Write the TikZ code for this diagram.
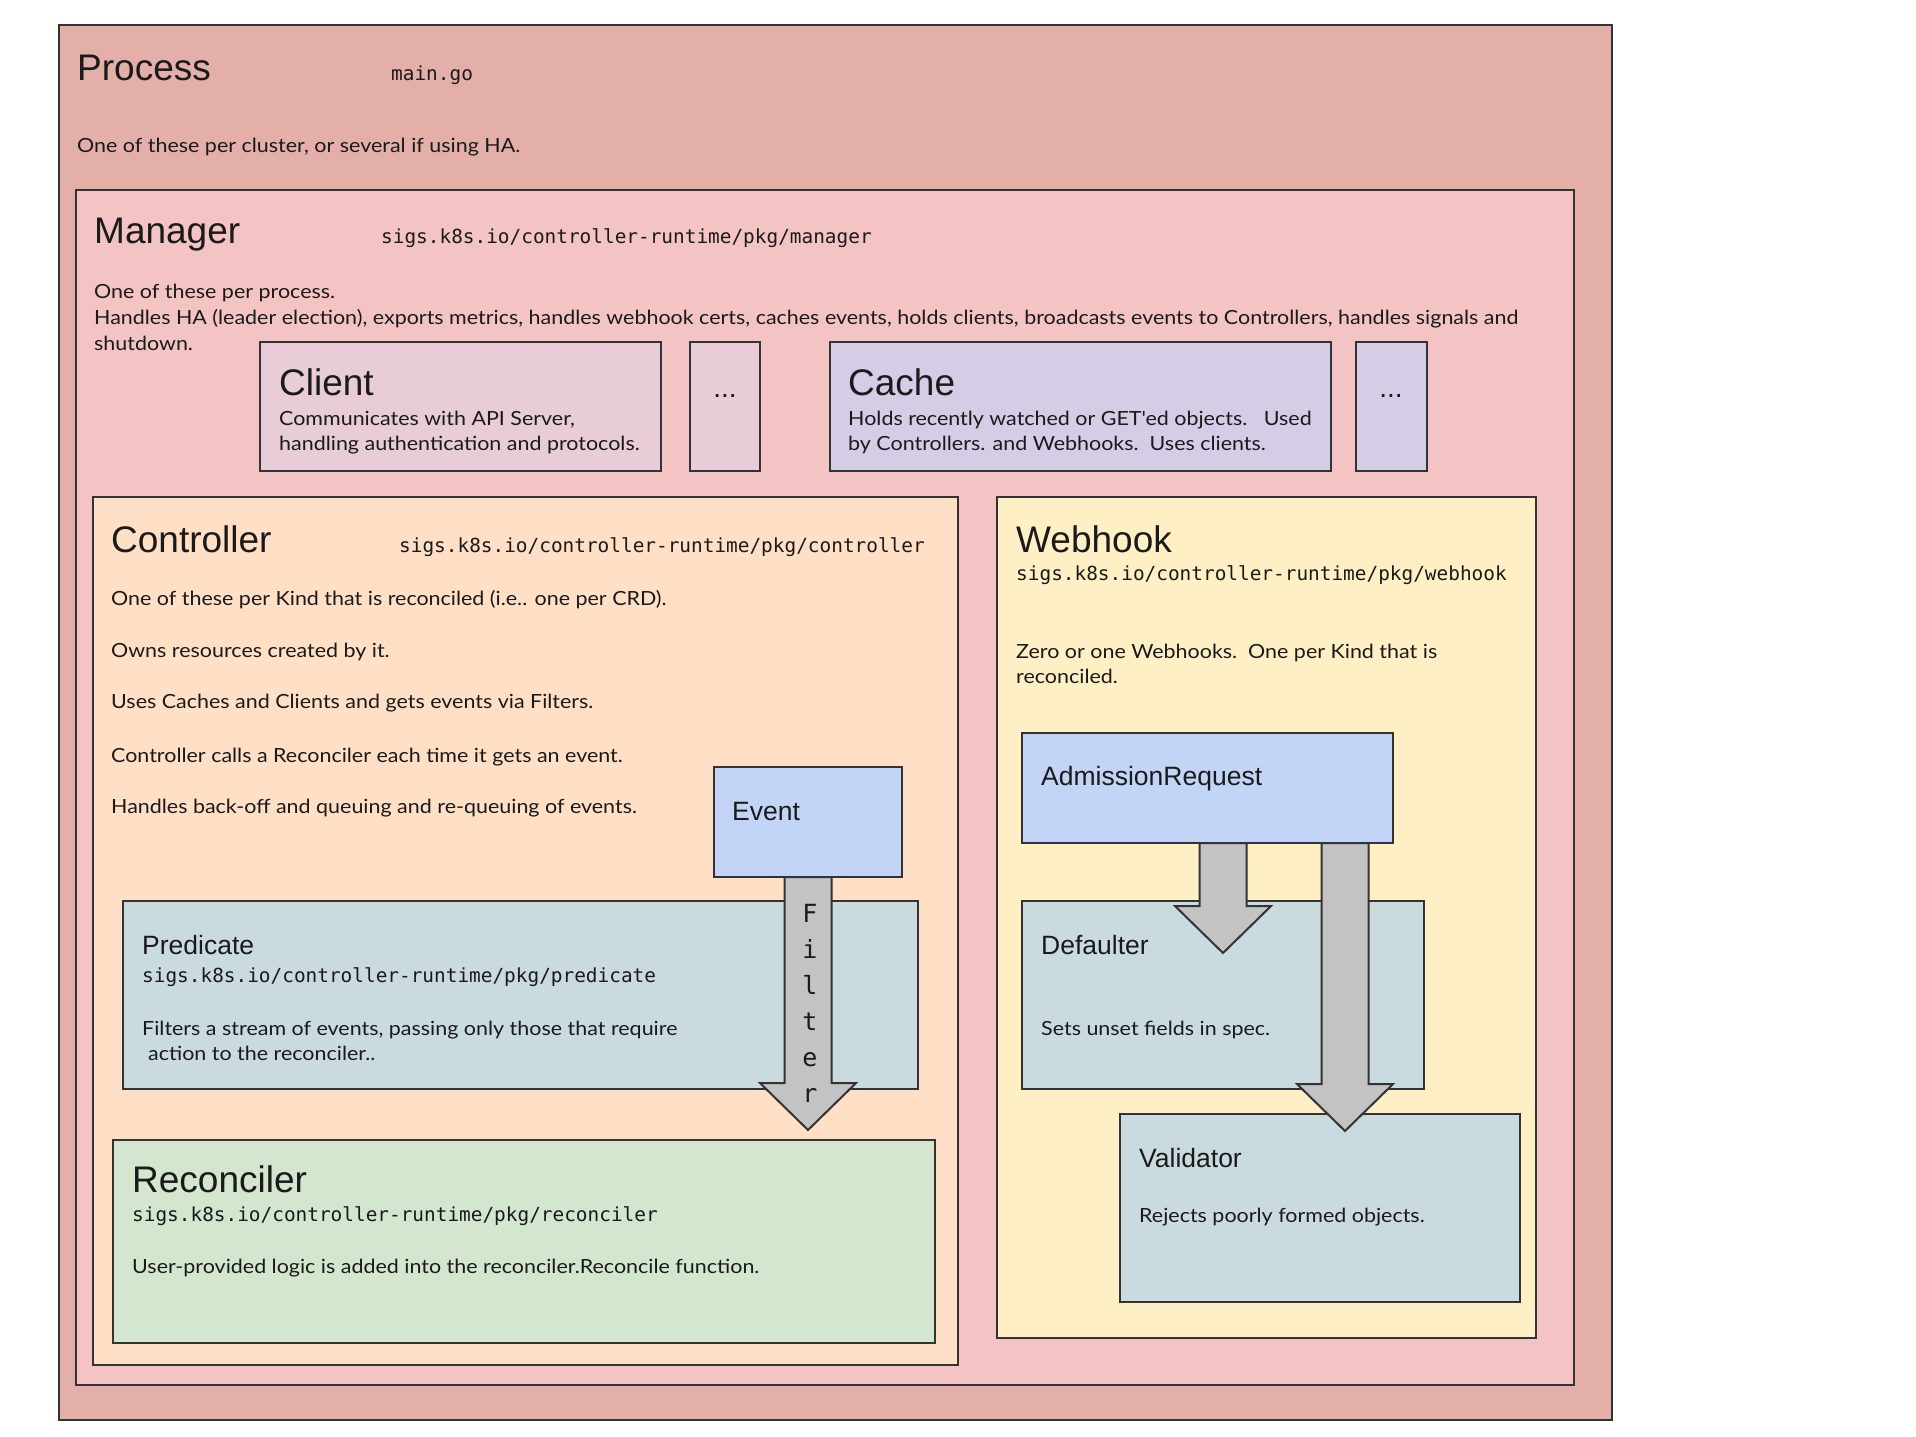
\documentclass[tikz,border=0pt]{standalone}
\usepackage{fontspec}
\setmainfont{Liberation Sans}
\newfontfamily\bodyf[FakeStretch=1.1]{Lato}
\newfontfamily\monof{DejaVu Sans Mono}
\usetikzlibrary{calc}
\definecolor{cProcess}{HTML}{E4AFA8}
\definecolor{cManager}{HTML}{F4C4C4}
\definecolor{cClient}{HTML}{E8CCD8}
\definecolor{cCache}{HTML}{D5CCE6}
\definecolor{cController}{HTML}{FFDFC5}
\definecolor{cWebhook}{HTML}{FFEFC5}
\definecolor{cEvent}{HTML}{C2D5F6}
\definecolor{cPred}{HTML}{CADBE0}
\definecolor{cRecon}{HTML}{D4E6CD}
\definecolor{cArrow}{HTML}{C3C3C3}
\definecolor{cLine}{HTML}{333333}
\definecolor{cText}{HTML}{1A1A1A}
\tikzset{
  box/.style={draw=cLine, line width=2pt, anchor=north west, inner sep=0pt, outer sep=0pt},
  title/.style={anchor=base west, inner sep=0pt, text=cText, font=\fontsize{37}{44}\selectfont},
  subtitle/.style={anchor=base west, inner sep=0pt, text=cText, font=\fontsize{26.5}{32}\selectfont},
  body/.style={anchor=base west, inner sep=0pt, text=cText, font=\bodyf\fontsize{19.5}{26}\selectfont},
  mono/.style={anchor=base west, inner sep=0pt, text=cText, font=\monof\fontsize{19.4}{24}\selectfont},
  arrowfill/.style={fill=cArrow, draw=cLine, line width=2pt, line join=miter},
  letter/.style={anchor=base, inner sep=0pt, text=cText, font=\monof\fontsize{25}{30}\selectfont},
}
\newcommand\blockarr[2]{%
  \path[arrowfill] let \p1=(#1), \p2=(#2) in
    (\x1-23.5pt,\y1) -- (\x1+23.5pt,\y1) -- (\x1+23.5pt,\y2+47pt) -- (\x1+48pt,\y2+47pt)
    -- (\x2,\y2) -- (\x1-48pt,\y2+47pt) -- (\x1-23.5pt,\y2+47pt) -- cycle;}
\begin{document}
\begin{tikzpicture}[x=1pt,y=-1pt]
\useasboundingbox[fill=white] (0,0) rectangle (1916,1436);
% containers
\node[box, fill=cProcess, minimum width=1553pt, minimum height=1395pt] (process) at (59,25) {};
\node[box, fill=cManager, minimum width=1498pt, minimum height=1195pt] (manager) at (76,190) {};
\node[box, fill=cClient, minimum width=401pt, minimum height=129pt] (client) at (260,342) {};
\node[box, fill=cClient, minimum width=70pt, minimum height=129pt] (dots1) at (690,342) {};
\node[box, fill=cCache, minimum width=501pt, minimum height=129pt] (cache) at (830,342) {};
\node[box, fill=cCache, minimum width=71pt, minimum height=129pt] (dots2) at (1356,342) {};
\node[box, fill=cController, minimum width=865pt, minimum height=868pt] (controller) at (93,497) {};
\node[box, fill=cWebhook, minimum width=539pt, minimum height=841pt] (webhook) at (997,497) {};
\node[box, fill=cEvent, minimum width=188pt, minimum height=110pt] (event) at (714,767) {};
\node[box, fill=cPred, minimum width=795pt, minimum height=188pt] (predicate) at (123,901) {};
\node[box, fill=cRecon, minimum width=822pt, minimum height=203pt] (reconciler) at (113,1140) {};
\node[box, fill=cEvent, minimum width=371pt, minimum height=110pt] (admission) at (1022,733) {};
\node[box, fill=cPred, minimum width=402pt, minimum height=188pt] (defaulter) at (1022,901) {};
\node[box, fill=cPred, minimum width=400pt, minimum height=188pt] (validator) at (1120,1114) {};
% texts
\node[title] (tProcess) at (77,80) {Process};
\node[mono] (tMain) at (391,80) {main.go};
\node[body] (dProcess) at (77,152) {One of these per cluster, or several if using HA.};
\node[title] (tManager) at (94,243) {Manager};
\node[mono] (pManager) at (381,243) {sigs.k8s.io/controller-runtime/pkg/manager};
\node[body] (dManager1) at (94,298) {One of these per process.};
\node[body] (dManager2) at (94,324) {Handles HA (leader election), exports metrics, handles webhook certs, caches events, holds clients, broadcasts events to Controllers, handles signals and};
\node[body] (dManager3) at (94,350) {shutdown.};
\node[title] (tClient) at (279,395) {Client};
\node[body] (dClient1) at (279,425) {Communicates with API Server,};
\node[body] (dClient2) at (279,450) {handling authentication and protocols.};
\node[anchor=base, inner sep=0pt, text=cText, font=\fontsize{28}{32}\selectfont] (tDots1) at (725,397) {...};
\node[title] (tCache) at (848,395) {Cache};
\node[body] (dCache1) at (848,425) {Holds recently watched or GET'ed objects.\ \ \ Used};
\node[body] (dCache2) at (848,450) {by Controllers. and Webhooks.\ \ Uses clients.};
\node[anchor=base, inner sep=0pt, text=cText, font=\fontsize{28}{32}\selectfont] (tDots2) at (1391,397) {...};
\node[title] (tController) at (111,552) {Controller};
\node[mono] (pController) at (399,552) {sigs.k8s.io/controller-runtime/pkg/controller};
\node[body] (dCtl1) at (111,605) {One of these per Kind that is reconciled (i.e.. one per CRD).};
\node[body] (dCtl2) at (111,657) {Owns resources created by it.};
\node[body] (dCtl3) at (111,708) {Uses Caches and Clients and gets events via Filters.};
\node[body] (dCtl4) at (111,762) {Controller calls a Reconciler each time it gets an event.};
\node[body] (dCtl5) at (111,813) {Handles back-off and queuing and re-queuing of events.};
\node[subtitle] (tEvent) at (732,820) {Event};
\node[subtitle] (tPred) at (142,954) {Predicate};
\node[mono] (pPred) at (142,982) {sigs.k8s.io/controller-runtime/pkg/predicate};
\node[body] (dPred1) at (142,1035) {Filters a stream of events, passing only those that require};
\node[body] (dPred2) at (148,1060) {action to the reconciler..};
\node[title] (tRecon) at (132,1192) {Reconciler};
\node[mono] (pRecon) at (132,1221) {sigs.k8s.io/controller-runtime/pkg/reconciler};
\node[body] (dRecon) at (132,1273) {User-provided logic is added into the reconciler.Reconcile function.};
\node[title] (tWebhook) at (1016,552) {Webhook};
\node[mono] (pWebhook) at (1016,580) {sigs.k8s.io/controller-runtime/pkg/webhook};
\node[body] (dWeb1) at (1016,658) {Zero or one Webhooks.\ \ One per Kind that is};
\node[body] (dWeb2) at (1016,683) {reconciled.};
\node[subtitle] (tAdm) at (1041,785) {AdmissionRequest};
\node[subtitle] (tDef) at (1041,954) {Defaulter};
\node[body] (dDef) at (1041,1035) {Sets unset fields in spec.};
\node[subtitle] (tVal) at (1139,1167) {Validator};
\node[body] (dVal) at (1139,1222) {Rejects poorly formed objects.};
% block arrows
\coordinate (ftip) at (808,1130);
\coordinate (a1s) at (1223,843);
\coordinate (a1t) at (1223,953);
\coordinate (a2s) at (1345,843);
\coordinate (a2t) at (1345,1131);
\blockarr{event.south}{ftip}
\blockarr{a1s}{a1t}
\blockarr{a2s}{a2t}
\foreach \ch [count=\i] in {F,i,l,t,e,r} {
  \node[letter] (fl\i) at (810,{886+36*\i}) {\ch};
}
\end{tikzpicture}
\end{document}
